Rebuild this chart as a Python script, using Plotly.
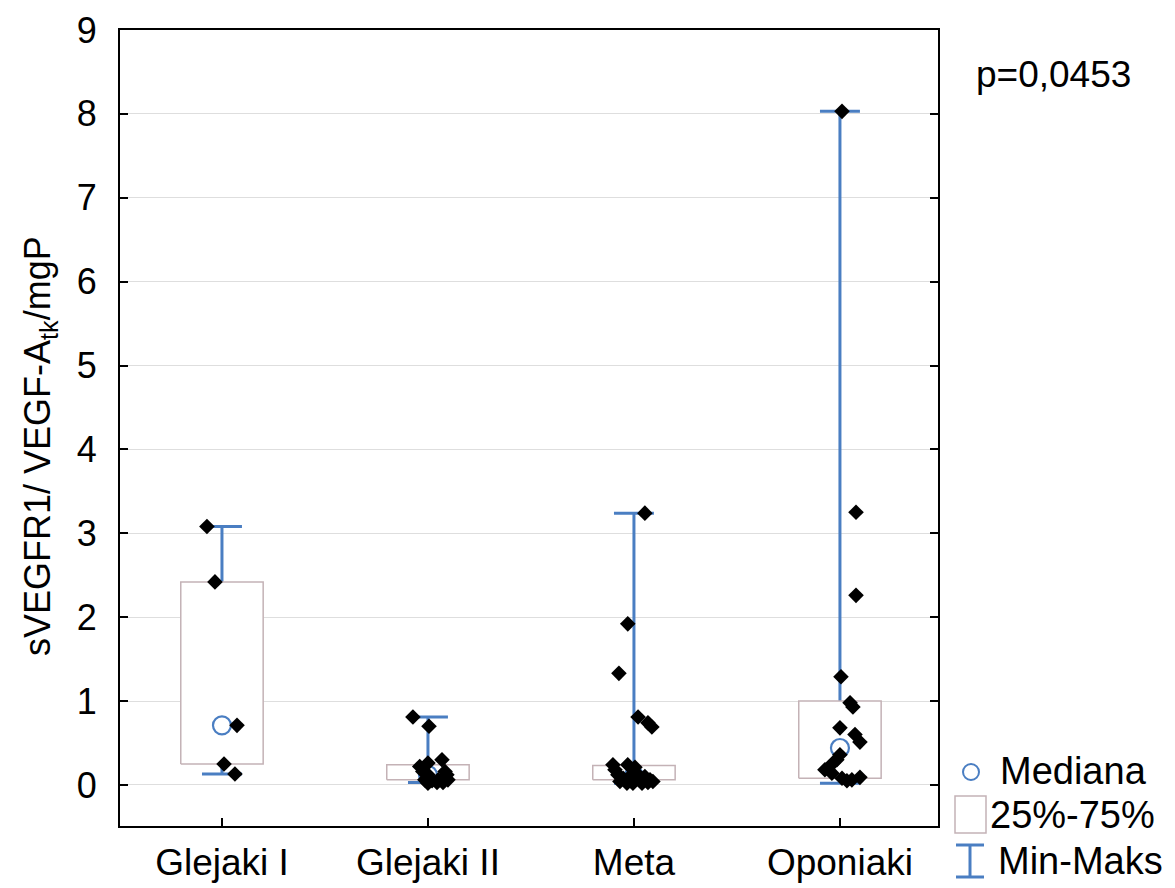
import plotly.graph_objects as go

# ---- data -------------------------------------------------------------
categories = ["Glejaki I", "Glejaki II", "Meta", "Oponiaki"]

glejaki_1 = [3.08, 2.42, 0.71, 0.25, 0.13]
glejaki_2 = [0.81, 0.70, 0.30, 0.26, 0.22, 0.16, 0.16, 0.12, 0.12,
             0.06, 0.05, 0.06, 0.06, 0.03, 0.02, 0.03]
meta = [3.24, 1.92, 1.33, 0.81, 0.74, 0.69, 0.24, 0.18, 0.24, 0.21, 0.12,
        0.08, 0.10, 0.12, 0.10, 0.06, 0.04, 0.04, 0.02, 0.02, 0.02, 0.03]
oponiaki = [8.03, 3.25, 2.26, 1.29, 0.98, 0.93, 0.68, 0.60, 0.51, 0.36,
            0.30, 0.26, 0.18, 0.14, 0.08, 0.05, 0.06, 0.09]

medians = [0.71, 0.12, 0.11, 0.44]
q1 = [0.25, 0.06, 0.06, 0.08]
q3 = [2.42, 0.24, 0.23, 1.00]
mins = [0.13, 0.03, 0.02, 0.02]
maxs = [3.08, 0.81, 3.24, 8.03]

y_ticks = [0, 1, 2, 3, 4, 5, 6, 7, 8, 9]
p_text = "p=0,0453"

# horizontal scatter of the raw points (category units)
jitter_1 = [-0.073, -0.034, 0.073, 0.010, 0.063]
jitter_2 = [-0.073, 0.005, 0.068, 0.000, -0.040, -0.025, 0.083, 0.092, 0.000,
            -0.015, 0.020, 0.050, 0.097, 0.073, 0.000, 0.044]
jitter_3 = [0.053, -0.030, -0.073, 0.020, 0.068, 0.087, -0.102, -0.092, -0.030,
            0.005, -0.078, -0.053, -0.020, 0.020, 0.053, 0.078, 0.092, -0.068,
            -0.034, -0.005, 0.039, 0.068]
jitter_4 = [0.010, 0.078, 0.078, 0.005, 0.049, 0.063, 0.000, 0.073, 0.097,
            0.000, -0.015, -0.034, -0.073, -0.039, 0.010, 0.034, 0.058, 0.097]

groups = [glejaki_1, glejaki_2, meta, oponiaki]
jitters = [jitter_1, jitter_2, jitter_3, jitter_4]

# ---- styling ----------------------------------------------------------
FONT = "Liberation Sans, Arial, sans-serif"
BLUE = "#4a7ec2"
BOX_LINE = "#c4b2b6"
BOX_HALF = 0.20
CAP_HALF = 0.097

fig = go.Figure()

# whiskers (outside the box) and end caps
for i in range(len(categories)):
    xs = [i, i, None, i, i, None,
          i - CAP_HALF, i + CAP_HALF, None, i - CAP_HALF, i + CAP_HALF]
    ys = [q3[i], maxs[i], None, q1[i], mins[i], None,
          maxs[i], maxs[i], None, mins[i], mins[i]]
    fig.add_trace(go.Scatter(x=xs, y=ys, mode="lines",
                             line=dict(color=BLUE, width=3),
                             hoverinfo="skip", showlegend=False))

# interquartile boxes
for i in range(len(categories)):
    fig.add_trace(go.Scatter(
        x=[i - BOX_HALF, i + BOX_HALF, i + BOX_HALF, i - BOX_HALF, i - BOX_HALF],
        y=[q1[i], q1[i], q3[i], q3[i], q1[i]],
        mode="lines", fill="toself", fillcolor="white",
        line=dict(color=BOX_LINE, width=1.5),
        hoverinfo="skip", showlegend=False))

# medians
fig.add_trace(go.Scatter(
    x=list(range(len(categories))), y=medians, mode="markers",
    marker=dict(symbol="circle-open", size=18, color=BLUE, line=dict(width=2.2)),
    showlegend=False))

# raw observations
for i, (vals, jit) in enumerate(zip(groups, jitters)):
    fig.add_trace(go.Scatter(
        x=[i + j for j in jit], y=vals, mode="markers",
        marker=dict(symbol="diamond", size=12, color="black"),
        showlegend=False))

# ---- manual legend (pixel positions converted to paper coords) -------
L, R, T, B = 120, 938, 30, 826


def px(x):
    return (x - L) / (R - L)


def py(y):
    return (B - y) / (B - T)


shapes = [
    dict(type="circle", xref="paper", yref="paper",
         x0=px(963), x1=px(979), y0=py(780), y1=py(764),
         line=dict(color=BLUE, width=2)),
    dict(type="rect", xref="paper", yref="paper",
         x0=px(955), x1=px(986), y0=py(833), y1=py(796),
         line=dict(color=BOX_LINE, width=1.5), fillcolor="white"),
    dict(type="line", xref="paper", yref="paper",
         x0=px(956), x1=px(984), y0=py(845), y1=py(845),
         line=dict(color=BLUE, width=3)),
    dict(type="line", xref="paper", yref="paper",
         x0=px(956), x1=px(984), y0=py(877), y1=py(877),
         line=dict(color=BLUE, width=3)),
    dict(type="line", xref="paper", yref="paper",
         x0=px(970), x1=px(970), y0=py(845), y1=py(877),
         line=dict(color=BLUE, width=3)),
]

legend_items = [("Mediana", 998, 771), ("25%-75%", 988, 815), ("Min-Maks", 996, 861)]
annotations = [
    dict(text=t, x=px(x), y=py(y), xref="paper", yref="paper",
         xanchor="left", yanchor="middle", showarrow=False,
         font=dict(family=FONT, size=38, color="black"))
    for t, x, y in legend_items
]
annotations.append(dict(text=p_text, x=px(974), y=py(74), xref="paper", yref="paper",
                        xanchor="left", yanchor="middle", showarrow=False,
                        font=dict(family=FONT, size=37, color="black")))
annotations.append(dict(text="sVEGFR1/ VEGF-A<sub>tk</sub>/mgP", x=px(40), y=py(446),
                        xref="paper", yref="paper", textangle=-90,
                        xanchor="center", yanchor="middle", showarrow=False,
                        font=dict(family=FONT, size=36, color="black")))

fig.update_layout(
    width=1175, height=888,
    margin=dict(l=L, r=1175 - R, t=T, b=888 - B, pad=0, autoexpand=False),
    plot_bgcolor="white", paper_bgcolor="white",
    font=dict(family=FONT, color="black"),
    shapes=shapes, annotations=annotations,
    showlegend=False,
)

fig.update_xaxes(
    range=[-0.495, 3.476], automargin=False,
    tickmode="array", tickvals=list(range(len(categories))), ticktext=categories,
    ticks="inside", ticklen=8, tickwidth=1.5, tickcolor="black",
    tickfont=dict(family=FONT, size=37, color="black"),
    ticklabelstandoff=3,
    showline=True, linecolor="black", linewidth=2, mirror=True,
    showgrid=False, zeroline=False,
)
fig.update_yaxes(
    range=[-0.49, 9], automargin=False,
    tickmode="array", tickvals=y_ticks,
    ticks="inside", ticklen=8, tickwidth=1.5, tickcolor="black",
    tickfont=dict(family=FONT, size=36, color="black"),
    ticklabelstandoff=14,
    showline=True, linecolor="black", linewidth=2, mirror="ticks",
    showgrid=True, gridcolor="#dedede", gridwidth=1, zeroline=False,
)

fig.write_html("out.html")
